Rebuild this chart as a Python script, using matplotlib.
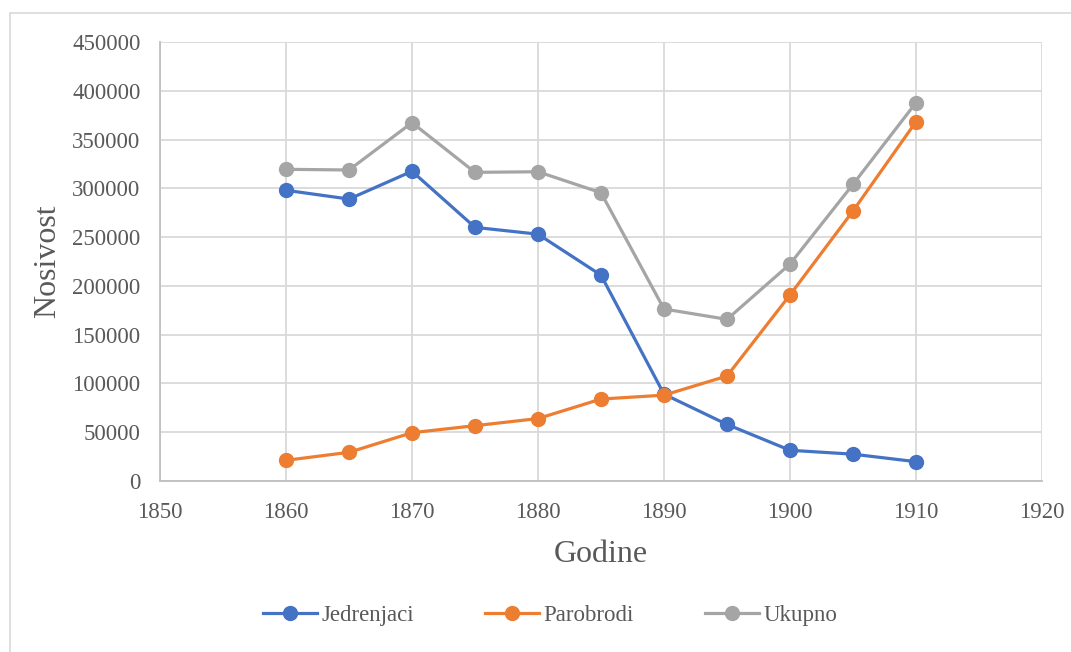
import matplotlib.pyplot as plt
from matplotlib.patches import Rectangle

# Data
godine = [1860, 1865, 1870, 1875, 1880, 1885, 1890, 1895, 1900, 1905, 1910]
jedrenjaci = [298000, 289000, 317500, 260000, 253000, 211000, 89000, 58000, 31500, 27500, 19800]
parobrodi = [21200, 29400, 49500, 56700, 64000, 84000, 88000, 107600, 190700, 276800, 368300]
ukupno = [319500, 318800, 367300, 316400, 317000, 295500, 176300, 165700, 222400, 304100, 387800]

series_names = ["Jedrenjaci", "Parobrodi", "Ukupno"]
series_colors = ["#4472C4", "#ED7D31", "#A5A5A5"]

x_ticks = list(range(1850, 1921, 10))
y_ticks = list(range(0, 450001, 50000))

TEXT_COLOR = "#595959"
GRID_COLOR = "#D9D9D9"
AXIS_COLOR = "#BFBFBF"

plt.rcParams["font.family"] = ["Liberation Serif", "DejaVu Serif"]

fig = plt.figure(figsize=(10.71, 6.52), dpi=100)
ax = fig.add_axes([160 / 1071, 1 - 481 / 652, (1042 - 160) / 1071, (481 - 42) / 652])

# chart-area border (Excel style), cut off at right and bottom
fig.patches.append(Rectangle((10 / 1071, -0.1), 1.2, 1 - 13 / 652 + 0.1,
                             transform=fig.transFigure, fill=False,
                             edgecolor="#D9D9D9", linewidth=1.2))

for values, name, color in zip([jedrenjaci, parobrodi, ukupno], series_names, series_colors):
    ax.plot(godine, values, color=color, linewidth=2.3, marker="o",
            markersize=10, label=name, zorder=3)

ax.set_xlim(1850, 1920)
ax.set_ylim(0, 450000)
ax.set_xticks(x_ticks)
ax.set_yticks(y_ticks)
ax.grid(True, color=GRID_COLOR, linewidth=1.3)
ax.set_axisbelow(True)

for side in ["top", "right"]:
    ax.spines[side].set_visible(False)
for side in ["left", "bottom"]:
    ax.spines[side].set_color(AXIS_COLOR)
    ax.spines[side].set_linewidth(1.3)

ax.tick_params(axis="both", length=0, labelsize=16.5, labelcolor=TEXT_COLOR)
ax.tick_params(axis="y", pad=14)
ax.tick_params(axis="x", pad=15)

ax.set_xlabel("Godine", fontsize=23, color=TEXT_COLOR, labelpad=12)
ax.set_ylabel("Nosivost", fontsize=23, color=TEXT_COLOR, labelpad=7)

fig.legend(loc="center", bbox_to_anchor=(550 / 1071, 1 - 615 / 652), ncol=3,
           frameon=False, fontsize=16.5, handlelength=2.35, handletextpad=0.2,
           columnspacing=3.1, labelcolor=TEXT_COLOR)

fig.savefig("out.png", dpi=100)
